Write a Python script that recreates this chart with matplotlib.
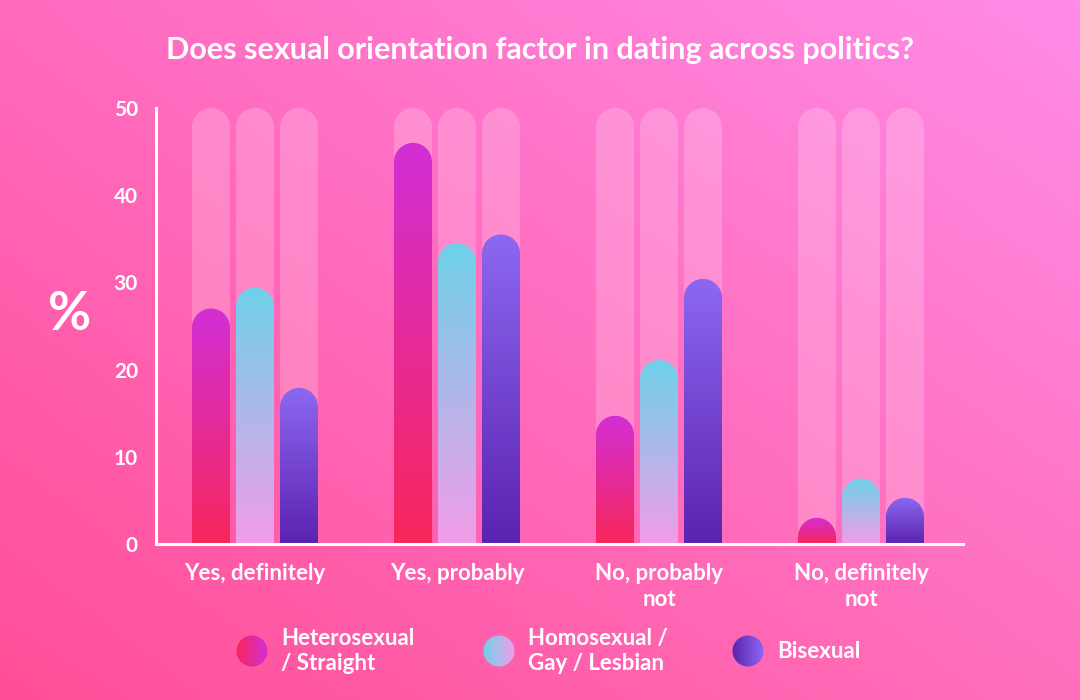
import numpy as np
import matplotlib
matplotlib.use("Agg")
import matplotlib.pyplot as plt
from matplotlib.colors import LinearSegmentedColormap, to_rgb
from matplotlib.patches import Polygon, Ellipse

# ---- data ----
categories = ["Yes, definitely", "Yes, probably", "No, probably\nnot", "No, definitely\nnot"]
hetero = [27.0, 46.0, 14.7, 3.0]
homo = [29.4, 34.5, 21.1, 7.5]
bisexual = [17.9, 35.5, 30.4, 5.3]
series_names = ["Heterosexual\n/ Straight", "Homosexual /\nGay / Lesbian", "Bisexual"]
yticks = [0, 10, 20, 30, 40, 50]
ymax = 50

# colours (bottom, top)
grad_colors = [("#f8265a", "#d22fd6"), ("#f29ce8", "#6ed2ea"), ("#5b22b0", "#8c68f0")]

W, H, DPI = 1080, 700, 100
fig = plt.figure(figsize=(W / DPI, H / DPI), dpi=DPI)

# ---- background gradient ----
bg = fig.add_axes([0, 0, 1, 1])
bg.set_axis_off()
tl, tr = np.array(to_rgb("#ff6abd")), np.array(to_rgb("#ff8ce8"))
bl, br = np.array(to_rgb("#ff4e98")), np.array(to_rgb("#ff6fbc"))
u = np.linspace(0, 1, 200)[None, :, None]
v = np.linspace(0, 1, 130)[:, None, None]
img = (1 - v) * ((1 - u) * tl + u * tr) + v * ((1 - u) * bl + u * br)
bg.imshow(img, extent=[0, 1, 0, 1], aspect="auto", origin="upper")
bg.set_xlim(0, 1); bg.set_ylim(0, 1)

# ---- main axes ----
left_px, right_px, top_px, bot_px = 156, 963, 108, 544
ax = fig.add_axes([left_px / W, 1 - bot_px / H, (right_px - left_px) / W, (bot_px - top_px) / H])
ax.patch.set_alpha(0)
group_px = 202.0
first_center_px = 255.0
xmin = -(first_center_px - left_px) / group_px
xmax = (right_px - first_center_px) / group_px
ax.set_xlim(xmin, xmax)
ax.set_ylim(0, ymax)

px_x = (xmax - xmin) / (right_px - left_px)
px_y = ymax / (bot_px - top_px)
bar_w = 38 * px_x
offset = 44 * px_x
rx = bar_w / 2
ry = 19 * px_y

def rounded_bar(cx, val):
    capy = max(val - ry, 0)
    t = np.linspace(0, np.pi, 40)
    xs = cx + rx * np.cos(t)
    ys = capy + ry * np.sin(t)
    if val < ry:
        ys = np.clip(ys, 0, val)
    pts = [(cx + rx, 0)] + list(zip(xs, ys)) + [(cx - rx, 0)]
    return np.array(pts)

x = np.arange(len(categories))
series = [hetero, homo, bisexual]
for si, vals in enumerate(series):
    cmap = LinearSegmentedColormap.from_list(f"g{si}", [grad_colors[si][0], grad_colors[si][1]])
    for gi, val in enumerate(vals):
        cx = x[gi] + (si - 1) * offset
        track = Polygon(rounded_bar(cx, ymax), closed=True, facecolor="white", alpha=0.2,
                        edgecolor="none", zorder=1)
        ax.add_patch(track)
        poly = Polygon(rounded_bar(cx, val), closed=True, facecolor="none", edgecolor="none", zorder=2)
        ax.add_patch(poly)
        grad = np.linspace(0, 1, 256)[:, None]
        im = ax.imshow(grad, cmap=cmap, extent=[cx - rx, cx + rx, 0, val], origin="lower",
                       aspect="auto", zorder=2)
        im.set_clip_path(poly)

ax.set_xlim(xmin, xmax)
ax.set_ylim(0, ymax)

for s in ["top", "right"]:
    ax.spines[s].set_visible(False)
for s in ["left", "bottom"]:
    ax.spines[s].set_color("white")
    ax.spines[s].set_linewidth(2.2)
ax.set_yticks(yticks)
ax.set_yticklabels([str(t) for t in yticks])
ax.set_xticks(x)
ax.set_xticklabels(categories)
ax.tick_params(axis="both", length=0, colors="white")
ax.tick_params(axis="y", pad=13, labelsize=15)
ax.tick_params(axis="x", pad=14, labelsize=16)
for lab in ax.get_xticklabels() + ax.get_yticklabels():
    lab.set_fontfamily("Lato")
    lab.set_fontweight("bold")
for lab in ax.get_xticklabels():
    lab.set_linespacing(1.25)

# ---- overlay for titles / legend (pixel coords) ----
ov = fig.add_axes([0, 0, 1, 1])
ov.set_axis_off()
ov.patch.set_alpha(0)
ov.set_xlim(0, W)
ov.set_ylim(H, 0)

ov.text(540, 50, "Does sexual orientation factor in dating across politics?", ha="center", va="center",
        color="white", fontsize=22, fontweight="bold", family="Lato")
ov.text(70, 315, "%", ha="center", va="center", color="white", fontsize=38, fontweight="bold", family="Lato")

leg_pos = [(252, 651, 281), (499, 651, 528), (748, 651, 777)]
for si, (ex, ey, tx) in enumerate(leg_pos):
    e = Ellipse((ex, ey), 31, 31, facecolor="none", edgecolor="none")
    ov.add_patch(e)
    cmap = LinearSegmentedColormap.from_list(f"l{si}", [grad_colors[si][0], grad_colors[si][1]])
    grad = np.linspace(0, 1, 128)[None, :]
    if si == 1:
        grad = grad[:, ::-1]
    im = ov.imshow(grad, cmap=cmap, extent=[ex - 16, ex + 16, ey + 16, ey - 16], aspect="auto")
    im.set_clip_path(e)
    ov.text(tx, ey, series_names[si], ha="left", va="center", color="white", fontsize=16,
            fontweight="bold", family="Lato", linespacing=1.25)
ov.set_xlim(0, W)
ov.set_ylim(H, 0)

fig.savefig("out.png", dpi=DPI)
